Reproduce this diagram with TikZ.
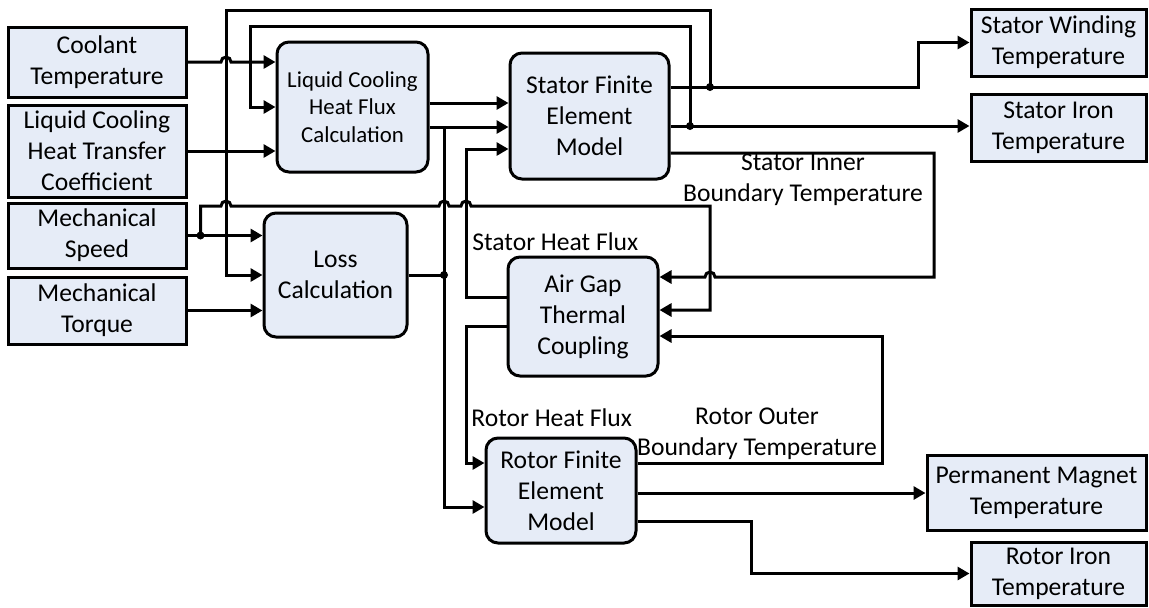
\documentclass[tikz,border=0pt]{standalone}
\usepackage{fontspec}
\setmainfont{Carlito}
\usetikzlibrary{arrows.meta,calc}
\definecolor{boxblue}{RGB}{230,236,247}
\newcommand{\lbl}{\fontsize{12.8}{15.5}\selectfont}
\newcommand{\lblsmall}{\fontsize{11.4}{13.8}\selectfont}

\begin{document}
\begin{tikzpicture}[x=0.5pt, y=-0.5pt, >={Triangle[length=6pt,width=6.5pt]},
  flow/.style={->, line width=1.5pt},
  invar/.style={draw, line width=1.5pt, fill=boxblue, inner sep=0pt, align=center, font=\lbl},
  block/.style={invar, rounded corners=6pt},
  tag/.style={align=center, font=\lbl, inner sep=0pt},
  jump/.style={insert path={arc[start angle=180, end angle=0, radius=2.5pt]}},
  jumpback/.style={insert path={arc[start angle=0, end angle=180, radius=2.5pt]}}]
  \useasboundingbox (0,0) rectangle (1149,607);

  %% Input variables
  \node[invar, minimum width=89pt, minimum height=35pt] (coolant) at (97,62) {Coolant\\Temperature};
  \node[invar, minimum width=89pt, minimum height=46pt] (lchtc) at (97,151) {Liquid Cooling\\Heat Transfer\\Coefficient};
  \node[invar, minimum width=89pt, minimum height=32.5pt] (speed) at (97,235.5) {Mechanical\\Speed};
  \node[invar, minimum width=89pt, minimum height=33.5pt] (torque) at (97,310.5) {Mechanical\\Torque};

  %% Calculation blocks
  \node[block, font=\lblsmall, minimum width=75.5pt, minimum height=65pt] (lchfc) at (352.5,107) {Liquid Cooling\\Heat Flux\\Calculation};
  \node[block, minimum width=71.5pt, minimum height=62pt] (loss) at (335.5,275) {Loss\\Calculation};
  \node[block, minimum width=79.5pt, minimum height=63pt] (sfem) at (589.5,116) {Stator Finite\\Element\\Model};
  \node[block, minimum width=75pt, minimum height=59.5pt] (agtc) at (583,316.5) {Air Gap\\Thermal\\Coupling};
  \node[block, minimum width=75pt, minimum height=52.5pt] (rfem) at (561,490.5) {Rotor Finite\\Element\\Model};

  %% Output temperatures
  \node[invar, minimum width=87.5pt, minimum height=33.5pt] (swt) at (1058.5,42.5) {Stator Winding\\Temperature};
  \node[invar, minimum width=87.5pt, minimum height=33.5pt] (sit) at (1058.5,127.5) {Stator Iron\\Temperature};
  \node[invar, minimum width=109.5pt, minimum height=37.5pt] (pmt) at (1036.5,492.5) {Permanent Magnet\\Temperature};
  \node[invar, minimum width=87.5pt, minimum height=31.5pt] (rit) at (1058.5,573.5) {Rotor Iron\\Temperature};

  %% Signal labels
  \node[tag] (sibt) at (803,180) {Stator Inner\\Boundary Temperature};
  \node[tag, anchor=west] (shf) at (472,242) {Stator Heat Flux};
  \node[tag, anchor=west] (rhf) at (471,418) {Rotor Heat Flux};
  \node[tag] (robt) at (757,434) {Rotor Outer\\Boundary Temperature};

  %% Bus lines and ports
  \coordinate (busL) at (226,10);
  \coordinate (busF) at (250,26);
  \coordinate (busI) at (690,26);
  \coordinate (busW) at (710,10);
  \coordinate (spdtop) at (710,206);
  \coordinate (busM) at (444,0);
  \coordinate (busH) at (466,0);
  \coordinate (ibR) at (934,0);
  \coordinate (obR) at (882,0);
  \coordinate (riK) at (751,0);
  \coordinate (spdsplit) at ($(speed.east)+(6.5pt,0)$);
  \coordinate (lcA) at ([yshift=2pt]lchfc.east);
  \coordinate (lcB) at ([yshift=-10pt]lchfc.east);
  \coordinate (sfC) at ([yshift=-16.5pt]sfem.west);
  \coordinate (sfW) at ([yshift=14.5pt]sfem.east);
  \coordinate (sfI) at ([yshift=-5pt]sfem.east);
  \coordinate (sfB) at ([yshift=-18.5pt]sfem.east);
  \coordinate (agA) at ([yshift=9.75pt]agtc.west);
  \coordinate (agB) at ([yshift=-4.75pt]agtc.west);
  \coordinate (agR1) at ([yshift=19.75pt]agtc.east);
  \coordinate (agR2) at ([yshift=3.25pt]agtc.east);
  \coordinate (agR3) at ([yshift=-9.75pt]agtc.east);
  \coordinate (rfA) at ([yshift=13.75pt]rfem.west);
  \coordinate (rfB) at ([yshift=-8.25pt]rfem.west);
  \coordinate (rfO) at ([yshift=13.75pt]rfem.east);
  \coordinate (rfP) at ([yshift=-1.25pt]rfem.east);
  \coordinate (rfI) at ([yshift=-15.25pt]rfem.east);

  %% Liquid cooling inputs
  \draw[flow] (coolant.east) -- ($(coolant.east -| busL)+(-2.5pt,0)$) [jump] -- (coolant.east -| lchfc.west);
  \draw[flow] (lchtc.east) -- (lchtc.east -| lchfc.west);
  \draw[flow] (sfI -| busI) -- (busI) -- (busF) |- (lchfc.west);

  %% Loss inputs
  \draw[flow] (speed.east) -- (speed.east -| loss.west);
  \draw[flow] (torque.east) -- (torque.east -| loss.west);
  \draw[flow] (sfW -| busW) -- (busW) -- (busL) |- (loss.west);
  \draw[flow] (spdsplit) |- ($(spdtop -| busL)+(-2.5pt,0)$) [jump]
    -- ($(spdtop -| busM)+(-2.5pt,0)$) [jump]
    -- ($(spdtop -| busH)+(-2.5pt,0)$) [jump]
    -- (spdtop) |- (agR2);

  %% Heat flux to the finite element models
  \draw[flow] (lcA) -- (lcA -| sfem.west);
  \draw[flow] (lcB) -- (lcB -| sfem.west);
  \draw[line width=1.5pt] (loss.east) -- (loss.east -| busM);
  \draw[flow] (lcB -| busM) |- (rfB);
  \draw[flow] (agA) -- (agA -| busH) |- (sfC);
  \draw[flow] (agB) -- (agB -| busH) |- (rfA);

  %% Stator outputs
  \draw[flow] (sfW) -| ($(swt.west)+(-25.5pt,0)$) -- (swt.west);
  \draw[flow] (sfI) -- (sfI -| sit.west);
  \draw[flow] (sfB) -- (sfB -| ibR) |- ($(agR1 -| busW)+(2.5pt,0)$) [jumpback] -- (agR1);

  %% Rotor outputs
  \draw[flow] (rfO) -- (rfO -| obR) |- (agR3);
  \draw[flow] (rfP) -- (rfP -| pmt.west);
  \draw[flow] (rfI) -- (rfI -| riK) |- (rit.west);

  %% Junction dots
  \fill (spdsplit) circle (2pt);
  \fill (sfW -| busW) circle (2pt);
  \fill (sfI -| busI) circle (2pt);
  \fill (loss.east -| busM) circle (2pt);
\end{tikzpicture}
\end{document}
